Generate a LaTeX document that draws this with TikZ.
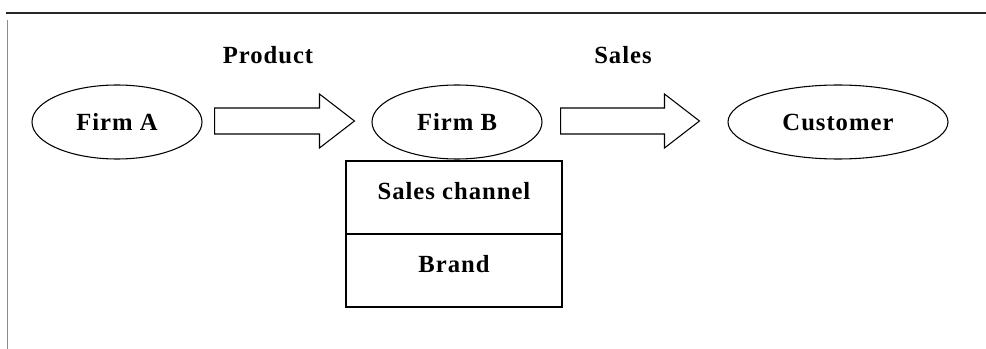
\documentclass[tikz,border=0pt]{standalone}
\usepackage{fontspec}
\setmainfont{Liberation Serif}
\usetikzlibrary{calc}
\usetikzlibrary{shapes.geometric}
\newcommand{\lblfont}{\fontsize{18.5}{21}\selectfont\bfseries\addfontfeature{LetterSpace=4}}
\tikzstyle{firm}=[draw, ellipse, line width=0.8pt, inner sep=0pt, minimum height=55.5pt, font=\lblfont]
\tikzstyle{cell}=[draw, rectangle, line width=0.8pt, inner sep=0pt, minimum width=162pt, minimum height=54.75pt, text depth=10.5pt, font=\lblfont]
\tikzstyle{flow}=[draw, line width=0.8pt, line join=miter]
\newcommand{\flowarrow}[4]{% Syntax: {from node}{to node}{gap at start}{gap at end}
    \coordinate (#1-s) at ($(#1.east)+(#3,-1)$);
    \coordinate (#1-t) at ($(#2.west)-(#4,1)$);
    \draw[flow] ($(#1-s)+(0,-13)$) -- ($(#1-t)+(-35,-13)$) -- ($(#1-t)+(-35,-27)$)
        -- (#1-t) -- ($(#1-t)+(-35,27)$) -- ($(#1-t)+(-35,13)$) -- ($(#1-s)+(0,13)$) -- cycle;
}

\begin{document}
\begin{tikzpicture}[x=0.75pt, y=-0.75pt]
	\useasboundingbox (0,0) rectangle (986,349);
	% frame
	\draw[line width=1.5pt, black!85] (6,13) -- (986,13);
	\draw[line width=0.6pt, black!45] (7,20) -- (7,349);
	% the three parties
	\node[firm, minimum width=127.5pt] (firma) at (117,122) {Firm A};
	\node[firm, minimum width=127.5pt] (firmb) at (457,122) {Firm B};
	\node[firm, minimum width=165pt] (customer) at (838,122) {Customer};
	% what firm B brings
	\node[cell] (channel) at (454,197.5) {Sales channel};
	\node[cell] (brand) at (454,270.5) {Brand};
	% flows
	\flowarrow{firma}{firmb}{12}{17}
	\flowarrow{firmb}{customer}{18}{28}
	\node[font=\lblfont] (product) at (268,55) {Product};
	\node[font=\lblfont] (sales) at (623,55) {Sales};
\end{tikzpicture}
\end{document}
